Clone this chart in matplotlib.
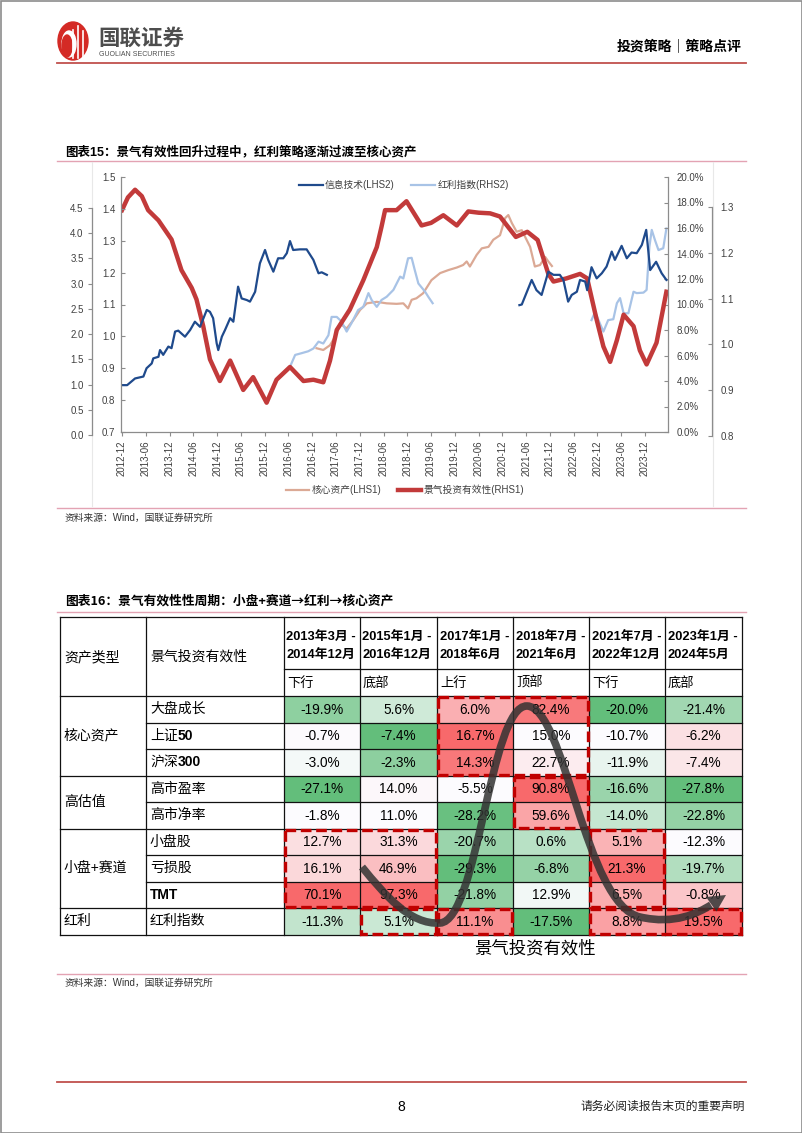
import numpy as np
import pandas as pd
import matplotlib
matplotlib.use("Agg")
import matplotlib.pyplot as plt
from matplotlib.patches import Rectangle, Ellipse, PathPatch, Polygon
from matplotlib.path import Path
from matplotlib.colors import LinearSegmentedColormap, TwoSlopeNorm
from matplotlib.ticker import FormatStrFormatter

plt.rcParams['font.family'] = ['Liberation Sans', 'Noto Sans CJK SC', 'DejaVu Sans']
plt.rcParams['axes.unicode_minus'] = False
CJK = ['Noto Sans CJK SC', 'DejaVu Sans']

W, H = 802, 1133

# ---------------- 图表15 数据 (x = 月份序号, 0 = 2012-12) ----------------
# 景气投资有效性 (RHS1, %)
jq_x = [0, 1.5, 3.3, 5, 6.6, 9.2, 12.5, 15, 17.6, 18.8, 20.5, 22.2, 24.7, 27.3, 30.6,
        33.1, 36.5, 39, 42.4, 45.8, 48.3, 50.8, 52.5, 54.2, 57.5, 60.9, 64.3, 65.5,
        66.4, 69.3, 71.8, 75.6, 78, 81.1, 84.5, 87.4, 90, 92.9, 95.4, 99.4, 102.3,
        104.9, 107.6, 108.9, 112.2, 115.6, 117.4, 119.8, 121.5, 123.2, 124.9, 126.6,
        129.1, 130.7, 132.4, 134.9, 137.4]
jq_y = [17.4, 18.4, 19.0, 18.5, 17.4, 16.6, 15.1, 12.7, 11.3, 10.4, 8.3, 5.7, 4.0, 5.6, 3.3,
        4.3, 2.3, 4.1, 5.1, 4.0, 4.1, 3.9, 5.6, 8.0, 9.6, 11.9, 14.5, 16.1,
        17.4, 17.4, 18.1, 16.2, 16.4, 17.0, 16.2, 17.3, 17.2, 17.15, 16.9, 15.3, 15.7,
        15.06, 12.4, 11.8, 12.05, 12.4, 12.05, 8.8, 6.7, 5.5, 7.2, 9.2,
        8.3, 6.4, 5.3, 7.0, 11.0]

# 信息技术 (LHS2)
it_x = [0, 1.3, 3.3, 5.4, 6.2, 7.5, 7.9, 9.2, 9.6, 10.4, 11.7, 12.5, 13.4, 14.2, 15.9,
        17.2, 18.4, 19.7, 21.4, 22.2, 23.0, 23.9, 24.3, 25.2, 26.0, 27.3, 28.1, 29.3,
        30.2, 31.5, 32.3, 33.6, 34.8, 36.1, 36.9, 38.2, 39.4, 40.7, 41.6, 42.4, 43.2,
        44.9, 46.6, 48.3, 49.6, 50.4, 51.7, 76,
        100.3, 100.9, 103.4, 104.6, 105.9, 107.6, 108.9, 110.5, 111.4, 112.6, 113.5,
        114.8, 115.6, 116.9, 117.4, 118.5, 119.8, 121.1, 122.3, 123.6, 124.4, 126.1,
        127.4, 128.6, 129.9, 131.2, 132.3, 133.3, 134.8, 136.2, 137.4]
it_y = [0.847, 0.847, 0.868, 0.874, 0.900, 0.915, 0.931, 0.936, 0.957, 0.942, 0.968, 0.963,
        1.015, 1.018, 0.999, 1.020, 1.046, 1.030, 1.083, 1.077, 1.057, 0.978, 0.957, 0.999,
        1.020, 1.057, 1.046, 1.156, 1.119, 1.114, 1.109, 1.140, 1.229, 1.271, 1.240, 1.203,
        1.245, 1.245, 1.261, 1.299, 1.271, 1.273, 1.273, 1.240, 1.198, 1.201, 1.193, np.nan,
        1.098, 1.100, 1.177, 1.145, 1.130, 1.203, 1.193, 1.193, 1.177, 1.109, 1.130,
        1.140, 1.177, 1.172, 1.145, 1.217, 1.182, 1.198, 1.219, 1.266, 1.240, 1.284,
        1.245, 1.263, 1.261, 1.287, 1.334, 1.208, 1.234, 1.198, 1.177]

# 红利指数 (RHS2)
hl_x = [42.4, 43.7, 45.4, 47, 48.3, 49.6, 50.8, 52.1, 52.9, 54.2, 55.4, 56.7, 57.9, 59.6,
        60.9, 62.2, 63, 64.3, 65.5, 66.8, 68.5, 70.2, 71, 72.2, 73.1, 73.9, 74.8, 76.5,
        77.3, 78.4, 98,
        118.5, 119.4, 120.6, 121.5, 122.7, 124, 124.9, 125.7, 126.6, 127.8, 129.1, 129.9,
        131.6, 132.4, 133.1, 133.7, 134.5, 135.4, 136.6, 137.4]
hl_y = [0.951, 0.977, 0.981, 0.985, 0.991, 1.006, 1.002, 1.020, 1.060, 1.060, 1.050, 1.028,
        1.046, 1.075, 1.082, 1.112, 1.097, 1.082, 1.097, 1.104, 1.119, 1.148, 1.144, 1.188,
        1.189, 1.162, 1.133, 1.115, 1.104, 1.090, np.nan,
        1.053, 1.071, 1.046, 1.028, 1.053, 1.055, 1.090, 1.101, 1.068, 1.068, 1.115, 1.112,
        1.113, 1.119, 1.213, 1.250, 1.228, 1.206, 1.210, 1.253]

# 核心资产 (LHS1)
hx_x = [49.1, 50.8, 52.5, 53.8, 55, 56.7, 58.4, 60.1, 61.8, 64.3, 66.8, 69.3, 71, 72.2,
        73.1, 74.3, 76, 78.1, 80.3, 82.4, 84.5, 86.1, 87, 87.8, 89.5, 90.8, 92.5, 93.7,
        95.4, 96.7, 97.5, 98.4, 99.6, 100.9, 103, 104.2, 105.5, 106.8, 107.6, 108.5]
hx_y = [1.72, 1.685, 1.78, 1.95, 2.21, 2.11, 2.28, 2.48, 2.61, 2.64, 2.61, 2.60, 2.61, 2.51,
        2.68, 2.71, 2.81, 3.07, 3.21, 3.27, 3.32, 3.37, 3.44, 3.34, 3.57, 3.70, 3.73, 3.87,
        3.96, 4.30, 4.36, 4.20, 4.03, 4.06, 3.73, 3.34, 3.37, 3.53, 3.44, 3.35]

x_labels = pd.date_range('2012-12-01', '2023-12-01', freq='6MS').strftime('%Y-%m')

# ---------------- 图表16 数据 ----------------
asset_types = ['核心资产', '高估值', '小盘+赛道', '红利']
asset_rows = [3, 2, 3, 1]
items = ['大盘成长', '上证50', '沪深300', '高市盈率', '高市净率', '小盘股', '亏损股', 'TMT', '红利指数']
periods = ['2013年3月 -\n2014年12月', '2015年1月 -\n2016年12月', '2017年1月 -\n2018年6月',
           '2018年7月 -\n2021年6月', '2021年7月 -\n2022年12月', '2023年1月 -\n2024年5月']
phases = ['下行', '底部', '上行', '顶部', '下行', '底部']
ret_1303_1412 = [-19.9, -0.7, -3.0, -27.1, -1.8, 12.7, 16.1, 70.1, -11.3]
ret_1501_1612 = [5.6, -7.4, -2.3, 14.0, 11.0, 31.3, 46.9, 97.3, 5.1]
ret_1701_1806 = [6.0, 16.7, 14.3, -5.5, -28.2, -20.7, -29.3, -21.8, 11.1]
ret_1807_2106 = [82.4, 15.0, 22.7, 90.8, 59.6, 0.6, -6.8, 12.9, -17.5]
ret_2107_2212 = [-20.0, -10.7, -11.9, -16.6, -14.0, 5.1, 21.3, 6.5, 8.8]
ret_2301_2405 = [-21.4, -6.2, -7.4, -27.8, -22.8, -12.3, -19.7, -0.8, 19.5]
ret_cols = [ret_1303_1412, ret_1501_1612, ret_1701_1806, ret_1807_2106, ret_2107_2212, ret_2301_2405]


def fx(x):
    return x / W


def fy(y):
    return 1 - y / H


fig = plt.figure(figsize=(W / 100, H / 100), dpi=100)

# ---------------- 页面 ----------------
page = fig.add_axes([0, 0, 1, 1])
page.set_xlim(0, W)
page.set_ylim(H, 0)
page.axis('off')

page.add_patch(Rectangle((0.5, 0.5), W - 1, H - 1, fill=False, ec='#8c8c8c', lw=1.2))
red_line = '#c0504d'
pink = '#e3a3b3'
page.plot([57, 746], [63, 63], color=red_line, lw=1.3)
page.plot([57, 746], [1082, 1082], color=red_line, lw=1.3)

# logo
page.add_patch(Ellipse((73, 41), 30, 38, color='#d42a25'))
for xb, yb in [(73, 30), (78, 26), (83, 31)]:
    page.plot([xb, xb], [yb, 58], color='white', lw=1.2)
page.add_patch(Ellipse((69, 44), 14, 26, color='white'))
page.add_patch(Ellipse((67, 46), 10, 22, color='#d42a25'))
page.text(98, 39, '国联证券', fontsize=15.5, fontweight='bold', color='#4d4d4d', va='center')
page.text(99, 54, 'GUOLIAN SECURITIES', fontsize=5, color='#4d4d4d', va='center')
page.text(742, 47, '投资策略｜策略点评', fontsize=10, fontweight='bold', ha='right', va='center')

page.text(401, 1107, '8', fontsize=10, ha='center', va='center')
page.text(745, 1107, '请务必阅读报告末页的重要声明', fontsize=8.5, ha='right', va='center', color='#222222')

# chart 15 frame / titles
page.text(65, 152, '图表15：景气有效性回升过程中，红利策略逐渐过渡至核心资产', fontsize=9.0,
          fontweight='bold', va='center')
page.plot([57, 746], [161, 161], color=pink, lw=1)
for xv in [92, 713]:
    page.plot([xv, xv], [162, 506], color='#e8e8e8', lw=0.8)
page.plot([57, 746], [508, 508], color=pink, lw=1)
page.text(65, 518, '资料来源：Wind，国联证券研究所', fontsize=7, va='center', color='#333333')

# ---------------- 图表15 ----------------
grey = '#8c8c8c'
tick_c = '#404040'
xmax = 137.8

ax = fig.add_axes([fx(121), fy(432), fx(668) - fx(121), fy(177) - fy(432)])
ax_r1 = ax.twinx()
ax_l1 = fig.add_axes([fx(121), fy(435), fx(668) - fx(121), fy(208) - fy(435)])
ax_r2 = fig.add_axes([fx(121), fy(436), fx(668) - fx(121), fy(207) - fy(436)])
for z, a in enumerate([ax_l1, ax_r2, ax_r1, ax]):
    a.set_zorder(2 + z)
    a.patch.set_visible(False)
    a.set_xlim(-0.25, xmax)
    for s in a.spines.values():
        s.set_visible(False)
        s.set_color(grey)
        s.set_linewidth(0.9)

l_hx, = ax_l1.plot(hx_x, hx_y, color='#dba995', lw=1.6)
l_hl, = ax_r2.plot(hl_x, hl_y, color='#a8c3e6', lw=1.6)
l_jq, = ax_r1.plot(jq_x, jq_y, color='#c23a3a', lw=3.2, solid_joinstyle='round')
l_it, = ax.plot(it_x, it_y, color='#1f4a8c', lw=1.6)

# main left (LHS2) + x axis
ax.spines['left'].set_visible(True)
ax.spines['bottom'].set_visible(True)
ax.set_ylim(0.7, 1.5)
ax.set_yticks(np.arange(0.7, 1.51, 0.1))
ax.yaxis.set_major_formatter(FormatStrFormatter('%.1f'))
ax.tick_params(axis='y', direction='in', length=3, color=grey, labelsize=7, labelcolor=tick_c, pad=4)
ax.set_xticks(np.arange(0, 133, 6))
ax.set_xticklabels(x_labels, rotation=90)
ax.tick_params(axis='x', direction='out', length=3, color=grey, labelsize=7, labelcolor=tick_c, pad=3)

# RHS1
ax_r1.spines['right'].set_visible(True)
ax_r1.set_ylim(0, 20)
ax_r1.set_yticks(np.arange(0, 21, 2))
ax_r1.yaxis.set_major_formatter(FormatStrFormatter('%.1f%%'))
ax_r1.tick_params(axis='y', direction='in', length=3, color=grey, labelsize=7, labelcolor=tick_c, pad=6)

# LHS1
ax_l1.spines['left'].set_visible(True)
ax_l1.spines['left'].set_position(('outward', 20.9))
ax_l1.set_ylim(0, 4.5)
ax_l1.set_yticks(np.arange(0, 4.51, 0.5))
ax_l1.yaxis.set_major_formatter(FormatStrFormatter('%.1f'))
ax_l1.tick_params(axis='y', direction='out', length=3, color=grey, labelsize=7, labelcolor=tick_c, pad=3)
ax_l1.set_xticks([])

# RHS2
ax_r2.spines['right'].set_visible(True)
ax_r2.spines['right'].set_position(('outward', 31.7))
ax_r2.yaxis.tick_right()
ax_r2.set_ylim(0.8, 1.3)
ax_r2.set_yticks(np.arange(0.8, 1.31, 0.1))
ax_r2.yaxis.set_major_formatter(FormatStrFormatter('%.1f'))
ax_r2.tick_params(axis='y', direction='in', length=3, color=grey, labelsize=7, labelcolor=tick_c, pad=6)
ax_r2.set_xticks([])

leg_kw = dict(loc='center', ncol=2, frameon=False, fontsize=7, handlelength=2.4,
              handletextpad=0.25, columnspacing=1.7, labelcolor=tick_c)
fig.legend([l_it, l_hl], ['信息技术(LHS2)', '红利指数(RHS2)'], bbox_to_anchor=(fx(404), fy(185)), **leg_kw)
fig.legend([l_hx, l_jq], ['核心资产(LHS1)', '景气投资有效性(RHS1)'], bbox_to_anchor=(fx(405), fy(490)), **leg_kw)

# ---------------- 图表16 表格 ----------------
page.text(65, 601, '图表16：景气有效性性周期：小盘+赛道→红利→核心资产', fontsize=9.2,
          fontweight='bold', va='center', family=CJK)
page.plot([57, 746], [612, 612], color=pink, lw=1)

col_x = [60, 146, 284, 360, 437, 513, 589, 665, 742]
top, mid, head_bot, row_h = 617, 669, 696, 26.5
n_rows = len(items)
bottom = head_bot + row_h * n_rows

cmap = LinearSegmentedColormap.from_list('gwr', ['#63be7b', '#fcfcff', '#f8696b'])
for j, vals in enumerate(ret_cols):
    v = np.array(vals)
    norm = TwoSlopeNorm(vcenter=np.median(v), vmin=v.min(), vmax=v.max())
    x0, x1 = col_x[j + 2], col_x[j + 3]
    for i, val in enumerate(v):
        y0 = head_bot + i * row_h
        page.add_patch(Rectangle((x0, y0), x1 - x0, row_h, fc=cmap(norm(val)), ec='none', zorder=1))
        page.text((x0 + x1) / 2, y0 + row_h / 2 + 0.5, f'{val:.1f}%', ha='center', va='center',
                  fontsize=9.8, zorder=4)
    d1, d2 = periods[j].split('\n')
    page.text(x0 + 2.5, 638, d1, fontsize=9.3, fontweight='bold', va='center')
    page.text(x0 + 2.5, 656, d2, fontsize=9.3, fontweight='bold', va='center')
    page.text(x0 + 3, 683, phases[j], fontsize=9.5, va='center')

# grid lines
lc, lw = '#111111', 0.9
page.plot([col_x[0], col_x[-1]], [top, top], color=lc, lw=lw, zorder=2)
page.plot([col_x[2], col_x[-1]], [mid, mid], color=lc, lw=lw, zorder=2)
page.plot([col_x[0], col_x[-1]], [head_bot, head_bot], color=lc, lw=lw, zorder=2)
group_ends = np.cumsum(asset_rows)
for i in range(1, n_rows + 1):
    yy = head_bot + i * row_h
    xs = col_x[0] if i in group_ends else col_x[1]
    page.plot([xs, col_x[-1]], [yy, yy], color=lc, lw=lw, zorder=2)
for xv in col_x:
    page.plot([xv, xv], [top, bottom], color=lc, lw=lw, zorder=2)

page.text(64, 657, '资产类型', fontsize=10, va='center')
page.text(150, 657, '景气投资有效性', fontsize=10, va='center')

start = 0
for name, n in zip(asset_types, asset_rows):
    yc = head_bot + row_h * (start + n / 2)
    page.text(64, yc, name, fontsize=10, va='center')
    start += n

for i, name in enumerate(items):
    yc = head_bot + row_h * (i + 0.5)
    head = name.rstrip('0123456789')
    if name == 'TMT':
        page.text(150, yc, name, fontsize=10, fontweight='bold', va='center')
    elif head != name:
        t = page.text(150, yc, head, fontsize=10, va='center')
        page.annotate(name[len(head):], xy=(1, 0.5), xycoords=t, fontsize=10, fontweight='bold',
                      va='center', ha='left')
    else:
        page.text(150, yc, name, fontsize=10, va='center')

# 红色虚线框 (列序号, 行序号)
boxes = [(2, 3, 0, 2), (3, 3, 3, 4), (0, 1, 5, 7), (1, 1, 8, 8), (2, 2, 8, 8), (4, 4, 5, 7), (4, 5, 8, 8)]
for c0, c1, r0, r1 in boxes:
    bx0, bx1 = col_x[c0 + 2] + 1, col_x[c1 + 3] - 1
    by0, by1 = head_bot + r0 * row_h + 1, head_bot + (r1 + 1) * row_h - 1
    page.add_patch(Rectangle((bx0, by0), bx1 - bx0, by1 - by0, fill=False, ec='#c00000',
                             lw=2.4, ls=(0, (3.2, 1.4)), zorder=3))

# 景气投资有效性 曲线箭头
arrow_c = '#333333'
verts = [(362, 867),
         (385, 895), (410, 925), (440, 923),
         (478, 921), (490, 705), (527, 706),
         (565, 707), (585, 905), (640, 917),
         (675, 925), (698, 913), (711, 905)]
codes = [Path.MOVETO] + [Path.CURVE4] * 12
page.add_patch(PathPatch(Path(verts, codes), fill=False, ec=arrow_c, lw=5.5, alpha=0.85,
                         capstyle='butt', zorder=5))
page.add_patch(Polygon([(726, 895), (716.5, 911.5), (706, 897)], closed=True, fc=arrow_c,
                       ec='none', alpha=0.85, zorder=5))
page.text(535, 948, '景气投资有效性', fontsize=12.5, ha='center', va='center')

page.plot([57, 746], [974, 974], color=pink, lw=1)
page.text(65, 983, '资料来源：Wind，国联证券研究所', fontsize=7, va='center', color='#333333')

fig.savefig('out.png', dpi=100)
